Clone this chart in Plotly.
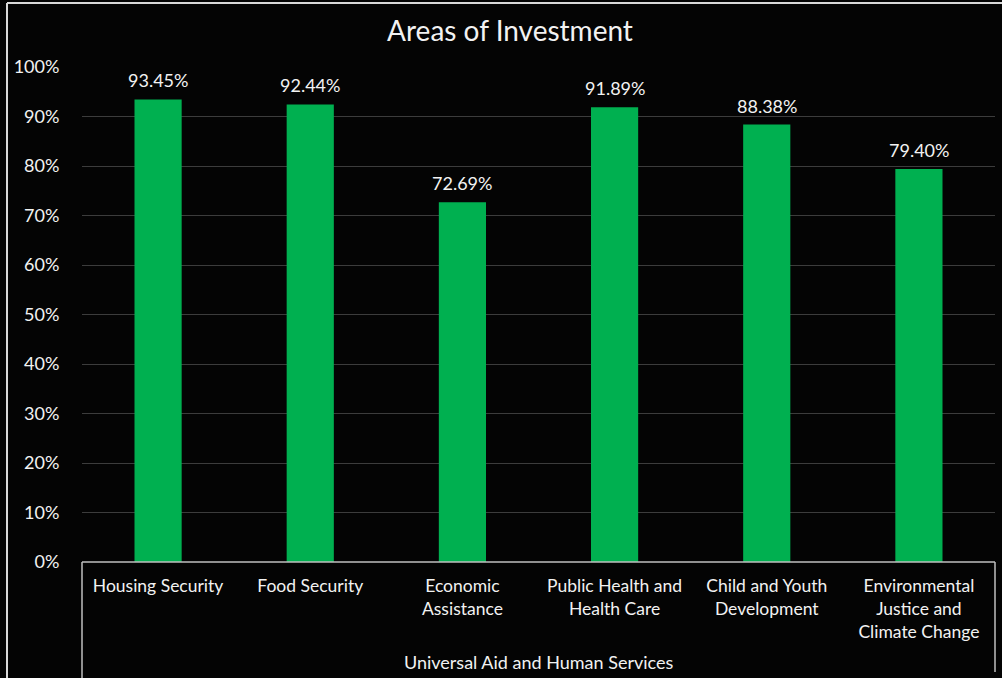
import plotly.graph_objects as go

categories = ["Housing Security", "Food Security", "Economic<br>Assistance",
              "Public Health and<br>Health Care", "Child and Youth<br>Development",
              "Environmental<br>Justice and<br>Climate Change"]
values = [0.9345, 0.9244, 0.7269, 0.9189, 0.8838, 0.7940]
group_label = "Universal Aid and Human Services"
title = "Areas of Investment"

W, H = 1002, 678
L, R, T, B = 82, 995, 67, 562
FONT = "Lato"
TXT = "#f2f2f2"
FS = 18

def px(x):
    return (x - L) / (R - L)

def py(y):
    return (B - y) / (B - T)

fig = go.Figure(go.Bar(
    x=categories, y=values,
    marker=dict(color="#00B050", line=dict(width=0)),
    width=0.31,
    hoverinfo="x+y",
))

annotations = [dict(x=c, y=v, xref="x", yref="y", text=f"{v:.2%}",
                    showarrow=False, yanchor="middle", yshift=19,
                    font=dict(family=FONT, size=FS, color=TXT))
               for c, v in zip(categories, values)]
annotations.append(dict(text=group_label, xref="paper", yref="paper",
                        x=0.5, y=py(662), xanchor="center", yanchor="middle",
                        showarrow=False, font=dict(family=FONT, size=FS, color=TXT)))

shapes = [
    dict(type="line", xref="paper", yref="paper", x0=0, x1=1, y0=0, y1=0,
         line=dict(color="#bfbfbf", width=1.5)),
    dict(type="line", xref="paper", yref="paper", x0=0, x1=0, y0=0, y1=py(678),
         line=dict(color="#bfbfbf", width=1.5)),
    dict(type="line", xref="paper", yref="paper", x0=1, x1=1, y0=0, y1=py(672),
         line=dict(color="#bfbfbf", width=1.5)),
    dict(type="line", xref="paper", yref="paper", x0=px(7), x1=px(1002), y0=py(3), y1=py(3),
         line=dict(color="#d9d9d9", width=2)),
    dict(type="line", xref="paper", yref="paper", x0=px(7), x1=px(7), y0=py(3), y1=py(678),
         line=dict(color="#d9d9d9", width=2)),
]

fig.update_layout(
    width=W, height=H,
    margin=dict(l=L, r=W - R, t=T, b=H - B, pad=0),
    paper_bgcolor="#040404", plot_bgcolor="#040404",
    showlegend=False,
    title=dict(text=title, x=px(510), xref="paper", xanchor="center",
               y=1 - 31 / H, yanchor="middle",
               font=dict(family=FONT, size=28, color=TXT)),
    font=dict(family=FONT, color=TXT),
    shapes=shapes,
    annotations=annotations,
)

fig.update_xaxes(
    type="category", tickfont=dict(family=FONT, size=17.5, color=TXT),
    ticks="outside", ticklen=8, tickcolor="rgba(0,0,0,0)",
    showgrid=False, showline=False, zeroline=False,
)
fig.update_yaxes(
    range=[0, 1], dtick=0.1, tickformat=".0%",
    tickfont=dict(family=FONT, size=FS, color=TXT),
    ticks="outside", ticklen=18, tickcolor="rgba(0,0,0,0)",
    showgrid=True, gridcolor="#3c3c3c", gridwidth=1.3,
    zeroline=False, showline=False,
)

fig.write_html("out.html", config={"displayModeBar": False},
               post_script="document.body.style.margin='0';document.body.style.overflow='hidden';")
